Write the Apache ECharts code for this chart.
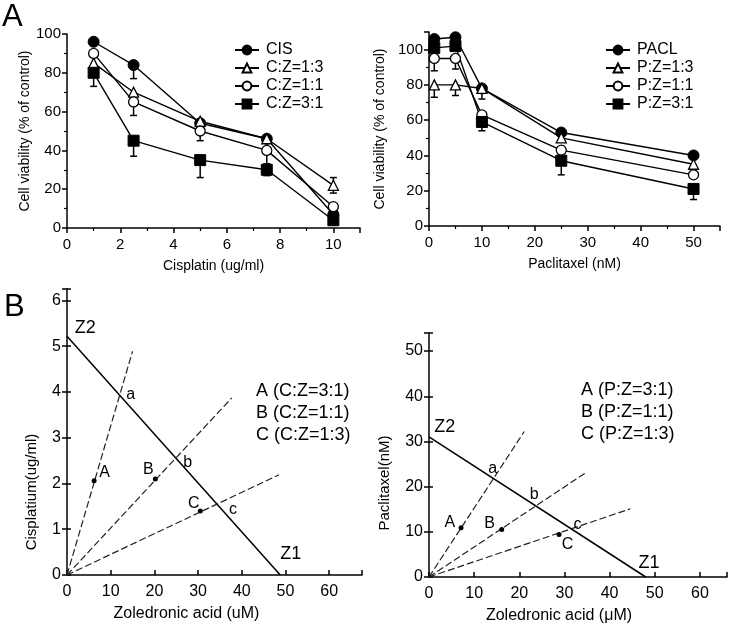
<!DOCTYPE html>
<html><head><meta charset="utf-8">
<script src="https://cdn.jsdelivr.net/npm/echarts@6/dist/echarts.min.js"></script>
<style>html,body{margin:0;padding:0;background:#fff}#c{width:730px;height:625px}</style>
</head><body><div id="c"></div>
<script>
// ---------- Panel A (left): cisplatin ----------
const cisDose = [1, 2.5, 5, 7.5, 10];
const cisNames = ['CIS', 'C:Z=1:3', 'C:Z=1:1', 'C:Z=3:1'];
const cisCIS  = [96, 84, 54, 46, 7];
const cisCZ13 = [85, 70, 55, 46, 22];
const cisCZ11 = [90, 65, 50, 40, 11];
const cisCZ31 = [80, 45, 35, 30, 4];
const cisErrLow  = [[0, 7, 0, 0, 0], [0, 0, 0, 0, 4], [0, 7, 5, 7, 0], [7, 8, 9, 3, 0]];
const cisErrHigh = [[0, 0, 0, 0, 0], [0, 0, 0, 0, 4], [0, 0, 0, 0, 0], [0, 0, 0, 3, 0]];

// ---------- Panel A (right): paclitaxel ----------
const pacDose = [1, 5, 10, 25, 50];
const pacNames = ['PACL', 'P:Z=1:3', 'P:Z=1:1', 'P:Z=3:1'];
const pacPACL = [106, 107, 78, 53, 40];
const pacPZ13 = [80, 80, 78, 50, 35];
const pacPZ11 = [95, 95, 63, 43, 29];
const pacPZ31 = [101, 102, 59, 37, 21];
const pacErrLow  = [[0, 0, 0, 0, 0], [7, 6, 6, 0, 0], [7, 6, 0, 0, 0], [0, 0, 5, 8, 6]];
const pacErrHigh = [[0, 0, 0, 0, 0], [0, 0, 0, 0, 0], [0, 0, 0, 0, 0], [0, 0, 0, 0, 0]];

// ---------- Panel B (left): cisplatin isobologram ----------
const cisIsobole = [[0, 5.22], [48.8, 0]];
const cisRayEnds = [[15.0, 4.89], [37.7, 3.87], [48.5, 2.19]];
const cisPoints = [[6.2, 2.06], [20.2, 2.1], [30.5, 1.4]];
const pointNames = ['A', 'B', 'C'];
const cisPointLabelPos = [[8.6, 2.23], [18.6, 2.3], [29.0, 1.57]];
const crossNames = ['a', 'b', 'c'];
const cisCrossLabelPos = [[14.6, 3.94], [27.6, 2.45], [38.0, 1.42]];
const zNames = ['Z2', 'Z1'];
const cisZLabelPos = [[4.2, 5.4], [51.2, 0.46]];
const cisRatioText = ['A (C:Z=3:1)', 'B (C:Z=1:1)', 'C (C:Z=1:3)'];

// ---------- Panel B (right): paclitaxel isobologram ----------
const pacIsobole = [[0, 31], [48, 0]];
const pacRayEnds = [[21.1, 32.2], [34.9, 23.2], [44.6, 15.1]];
const pacPoints = [[7.1, 10.9], [16.1, 10.5], [28.8, 9.4]];
const pacPointLabelPos = [[4.6, 12.1], [13.4, 11.8], [30.7, 7.1]];
const pacCrossLabelPos = [[14.1, 24.1], [23.3, 18.2], [32.9, 11.6]];
const pacZLabelPos = [[3.5, 33.3], [48.7, 3.2]];
const pacRatioText = ['A (P:Z=3:1)', 'B (P:Z=1:1)', 'C (P:Z=1:3)'];

const FONT = 'Liberation Sans, Arial, sans-serif';
const BLACK = '#000';

const symbols = ['circle', 'triangle', 'circle', 'rect'];
const filled = [true, false, false, true];
const sizes = [11, 10, 10, 11];

function lineSeries(name, dose, vals, idx, axis) {
  return {
    type: 'line', name, xAxisIndex: axis, yAxisIndex: axis, z: 3,
    data: dose.map((d, i) => [d, vals[i]]),
    symbol: symbols[idx], symbolSize: sizes[idx], showSymbol: true,
    lineStyle: { color: BLACK, width: 1.4 },
    itemStyle: filled[idx] ? { color: BLACK, borderColor: BLACK, borderWidth: 1 } :
      { color: '#fff', borderColor: BLACK, borderWidth: 1.3 },
    emphasis: { disabled: true }, animation: false
  };
}
function errRender(params, api) {
  const x = api.value(0), y = api.value(1), lo = api.value(2), hi = api.value(3);
  const p = api.coord([x, y]);
  const ch = [];
  const st = { stroke: BLACK, lineWidth: 1.5 };
  const w = 3.5;
  [lo, hi].forEach(v => {
    if (v !== y) {
      const q = api.coord([x, v]);
      ch.push({ type: 'line', shape: { x1: p[0], y1: p[1], x2: q[0], y2: q[1] }, style: st });
      ch.push({ type: 'line', shape: { x1: q[0] - w, y1: q[1], x2: q[0] + w, y2: q[1] }, style: st });
    }
  });
  return { type: 'group', children: ch };
}
function errSeries(dose, vals, lo, hi, axis) {
  return {
    type: 'custom', xAxisIndex: axis, yAxisIndex: axis, z: 2, renderItem: errRender,
    encode: { x: 0, y: 1 },
    data: dose.map((d, i) => [d, vals[i], vals[i] - lo[i], vals[i] + hi[i]]),
    animation: false, silent: true
  };
}
function textScatter(names, pos, axis, size) {
  return {
    type: 'scatter', xAxisIndex: axis, yAxisIndex: axis, z: 5, symbolSize: 0,
    itemStyle: { color: BLACK, opacity: 1 },
    data: names.map((n, i) => ({ name: n, value: pos[i] })),
    label: { show: true, position: 'inside', formatter: '{b}', color: BLACK, opacity: 1,
      textBorderWidth: 0, fontSize: size, fontFamily: FONT },
    silent: true, animation: false
  };
}
function isoSeries(isobole, rayEnds, points, axis) {
  const s = [];
  s.push({ type: 'line', xAxisIndex: axis, yAxisIndex: axis, data: isobole, symbol: 'none',
    lineStyle: { color: BLACK, width: 1.5 }, silent: true, animation: false });
  rayEnds.forEach(e => s.push({ type: 'line', xAxisIndex: axis, yAxisIndex: axis, data: [[0, 0], e], symbol: 'none',
    lineStyle: { color: '#222', width: 1.2, type: [7, 3] }, silent: true, animation: false }));
  s.push({ type: 'scatter', xAxisIndex: axis, yAxisIndex: axis, data: points, symbolSize: 5,
    itemStyle: { color: BLACK, opacity: 1 }, silent: true, animation: false, z: 4 });
  return s;
}

const axLine = { show: true, onZero: false, lineStyle: { color: BLACK, width: 1.5 } };
function xA(grid, max, interval, name, labelSize, nameSize, minor, nameShift, tickInside) {
  return {
    type: 'value', gridIndex: grid, min: 0, max, interval, name, nameLocation: 'middle', nameGap: 31,
    nameTextStyle: { color: BLACK, fontSize: nameSize, fontFamily: FONT, padding: [0, nameShift, 0, 0] },
    axisLine: axLine,
    axisTick: { show: true, inside: !!tickInside, length: 5, lineStyle: { color: BLACK, width: 1.5 } },
    minorTick: { show: minor, splitNumber: 2, length: 3, lineStyle: { color: BLACK, width: 1.2 } },
    axisLabel: { color: BLACK, fontSize: labelSize, fontFamily: FONT, margin: 9,
      formatter: v => (v % interval === 0 ? String(v) : '') },
    splitLine: { show: false }
  };
}
function yA(grid, max, interval, name, labelSize, nameSize, minor, nameGap, nameShift) {
  return {
    type: 'value', gridIndex: grid, min: 0, max, interval, name, nameLocation: 'middle', nameGap,
    position: 'left',
    nameTextStyle: { color: BLACK, fontSize: nameSize, fontFamily: FONT, padding: [0, nameShift, 0, 0] },
    axisLine: axLine,
    axisTick: { show: true, length: 5, lineStyle: { color: BLACK, width: 1.5 } },
    minorTick: { show: minor, splitNumber: 2, length: 3, lineStyle: { color: BLACK, width: 1.2 } },
    axisLabel: { color: BLACK, fontSize: labelSize, fontFamily: FONT, margin: 6,
      formatter: v => (v % interval === 0 ? String(v) : '') },
    splitLine: { show: false }
  };
}
function yInner(grid, max, interval) {
  return { type: 'value', gridIndex: grid, min: 0, max, interval, position: 'left',
    axisLine: { show: false }, axisLabel: { show: false }, splitLine: { show: false },
    axisTick: { show: true, inside: true, length: 4, lineStyle: { color: BLACK, width: 1.5 } } };
}

const series = [];
const cisVals = [cisCIS, cisCZ13, cisCZ11, cisCZ31];
const pacVals = [pacPACL, pacPZ13, pacPZ11, pacPZ31];
cisVals.forEach((v, i) => {
  series.push(errSeries(cisDose, v, cisErrLow[i], cisErrHigh[i], 0));
  series.push(lineSeries(cisNames[i], cisDose, v, i, 0));
});
pacVals.forEach((v, i) => {
  series.push(errSeries(pacDose, v, pacErrLow[i], pacErrHigh[i], 1));
  series.push(lineSeries(pacNames[i], pacDose, v, i, 1));
});
series.push(...isoSeries(cisIsobole, cisRayEnds, cisPoints, 2));
series.push(textScatter(pointNames, cisPointLabelPos, 2, 16));
series.push(textScatter(crossNames, cisCrossLabelPos, 2, 16));
series.push(textScatter(zNames, cisZLabelPos, 2, 18));
series.push(...isoSeries(pacIsobole, pacRayEnds, pacPoints, 3));
series.push(textScatter(pointNames, pacPointLabelPos, 3, 16));
series.push(textScatter(crossNames, pacCrossLabelPos, 3, 16));
series.push(textScatter(zNames, pacZLabelPos, 3, 18));

const legendCommon = {
  orient: 'vertical', itemWidth: 24, itemHeight: 11, itemGap: 2,
  textStyle: { color: BLACK, fontSize: 16, fontFamily: FONT, padding: [0, 0, 0, 2] },
  selectedMode: false
};

function ratioGraphic(texts, left, top) {
  return texts.map((t, i) => ({ type: 'text', left, top: top + i * 22,
    style: { text: t, fill: BLACK, font: '18px ' + FONT } }));
}

const option = {
  backgroundColor: '#fff',
  animation: false,
  grid: [
    { left: 67, top: 34, width: 293, height: 194 },
    { left: 429, top: 32, width: 291, height: 194 },
    { left: 67, top: 289, width: 295, height: 286 },
    { left: 429, top: 333, width: 300, height: 245 }
  ],
  xAxis: [
    xA(0, 11, 2, 'Cisplatin (ug/ml)', 15, 14, true, 0, false),
    xA(1, 55, 10, 'Paclitaxel (nM)', 15, 14, true, 0, false),
    xA(2, 67.5, 10, 'Zoledronic acid (uM)', 16, 16, false, 56, true),
    xA(3, 66, 10, 'Zoledronic acid (\u03bcM)', 16, 16, false, 38, true)
  ],
  yAxis: [
    yA(0, 100, 20, 'Cell viability (% of control)', 15, 14, true, 33, 0),
    yA(1, 110, 20, 'Cell viability (% of control)', 15, 14, true, 42, 0),
    yA(2, 6.25, 1, 'Cisplatium(ug/ml)', 16, 15, false, 28, 120),
    yA(3, 54, 10, 'Paclitaxel(nM)', 16, 15, false, 37, 56),
    yInner(2, 6.25, 1),
    yInner(3, 54, 10)
  ],
  legend: [
    Object.assign({ left: 229, top: 37, data: cisNames }, legendCommon),
    Object.assign({ left: 600, top: 37, data: pacNames }, legendCommon)
  ],
  graphic: [
    { type: 'text', left: 2, top: 2, style: { text: 'A', fill: BLACK, font: '31px ' + FONT } },
    { type: 'text', left: 4, top: 292, style: { text: 'B', fill: BLACK, font: '31px ' + FONT } },
    ...ratioGraphic(cisRatioText, 256, 382),
    ...ratioGraphic(pacRatioText, 581, 381)
  ],
  series
};
const chart = echarts.init(document.getElementById('c'), null, { renderer: 'canvas' });
chart.setOption(option);
</script></body></html>
